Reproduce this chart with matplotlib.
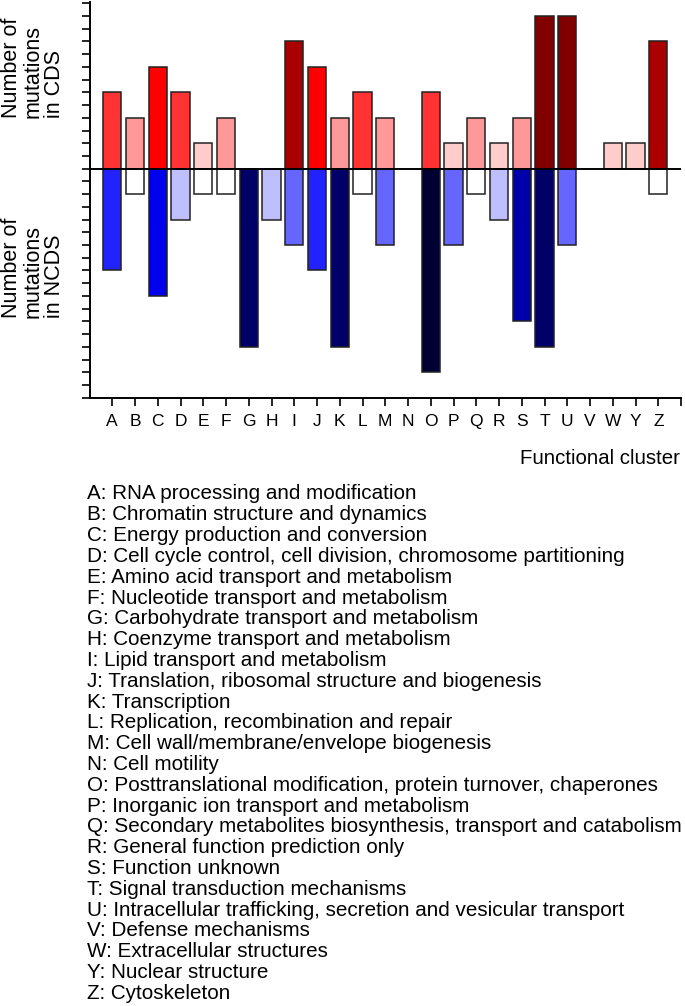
import matplotlib
matplotlib.use("Agg")
import matplotlib.pyplot as plt
import numpy as np

categories = list("ABCDEFGHIJKLMNOPQRSTUVWYZ")
cds = [3, 2, 4, 3, 1, 2, 0, 0, 5, 4, 2, 3, 2, 0, 3, 1, 2, 1, 2, 6, 6, 0, 1, 1, 5]
ncds = [4, 1, 5, 2, 1, 1, 7, 2, 3, 4, 7, 1, 3, 0, 8, 3, 1, 2, 6, 7, 3, 0, 0, 0, 1]
descriptions = [
    "A: RNA processing and modification",
    "B: Chromatin structure and dynamics",
    "C: Energy production and conversion",
    "D: Cell cycle control, cell division, chromosome partitioning",
    "E: Amino acid transport and metabolism",
    "F: Nucleotide transport and metabolism",
    "G: Carbohydrate transport and metabolism",
    "H: Coenzyme transport and metabolism",
    "I: Lipid transport and metabolism",
    "J: Translation, ribosomal structure and biogenesis",
    "K: Transcription",
    "L: Replication, recombination and repair",
    "M: Cell wall/membrane/envelope biogenesis",
    "N: Cell motility",
    "O: Posttranslational modification, protein turnover, chaperones",
    "P: Inorganic ion transport and metabolism",
    "Q: Secondary metabolites biosynthesis, transport and catabolism",
    "R: General function prediction only",
    "S: Function unknown",
    "T: Signal transduction mechanisms",
    "U: Intracellular trafficking, secretion and vesicular transport",
    "V: Defense mechanisms",
    "W: Extracellular structures",
    "Y: Nuclear structure",
    "Z: Cytoskeleton",
]

red_shades = {1: "#FFCCCC", 2: "#FF9999", 3: "#FF3333", 4: "#FF0000", 5: "#AA0000", 6: "#800000"}
blue_shades = {1: "#FFFFFF", 2: "#BFBFFF", 3: "#6666FF", 4: "#2222FF", 5: "#0000EE",
               6: "#0000AA", 7: "#000066", 8: "#000033"}

plt.rcParams['font.family'] = ['Liberation Sans', 'DejaVu Sans']

W, H = 685, 1006
fig = plt.figure(figsize=(W / 100, H / 100), dpi=100)
ax_l, ax_r, ax_t, ax_b = 89.5, 681, 2, 397.7
ax = fig.add_axes([ax_l / W, 1 - ax_b / H, (ax_r - ax_l) / W, (ax_b - ax_t) / H])

x = np.arange(len(categories))
for xi, v in zip(x, cds):
    if v > 0:
        ax.bar(xi, v, width=0.8, color=red_shades[v], edgecolor="#222222", linewidth=1.1, zorder=2)
for xi, v in zip(x, ncds):
    if v > 0:
        ax.bar(xi, -v, width=0.8, color=blue_shades[v], edgecolor="#222222", linewidth=1.1, zorder=2)

ax.set_xlim(-1, 25)
ax.set_ylim(-9, 6.55)
ax.axhline(0, color="black", linewidth=1.4, zorder=3)

for s in ["top", "right"]:
    ax.spines[s].set_visible(False)
for s in ["left", "bottom"]:
    ax.spines[s].set_linewidth(1.4)

ax.set_yticks(np.arange(-9, 6.51, 0.5))
ax.set_yticklabels([])
ax.tick_params(axis="y", direction="out", length=6, width=1.2)
ax.set_xticks(list(x) + [25])
ax.set_xticklabels(categories + [""], fontsize=12.5)
ax.tick_params(axis="x", direction="out", length=6, width=1.2, pad=6)

def px(xp, yp):
    return xp / W, 1 - yp / H

fig.text(*px(33, 118), "Number of\nmutations\nin CDS", rotation=90, ha="center", va="bottom",
         multialignment="left", fontsize=15.5, linespacing=1.0)
fig.text(*px(33, 318), "Number of\nmutations\nin NCDS", rotation=90, ha="center", va="bottom",
         multialignment="left", fontsize=15.5, linespacing=1.0)

fig.text(*px(680, 459), "Functional cluster", ha="right", va="center", fontsize=14.7)

y0, dy = 494, 20.8
for i, d in enumerate(descriptions):
    fig.text(*px(87, y0 + i * dy), d, ha="left", va="center", fontsize=14.9)

fig.savefig("out.png", dpi=100)
